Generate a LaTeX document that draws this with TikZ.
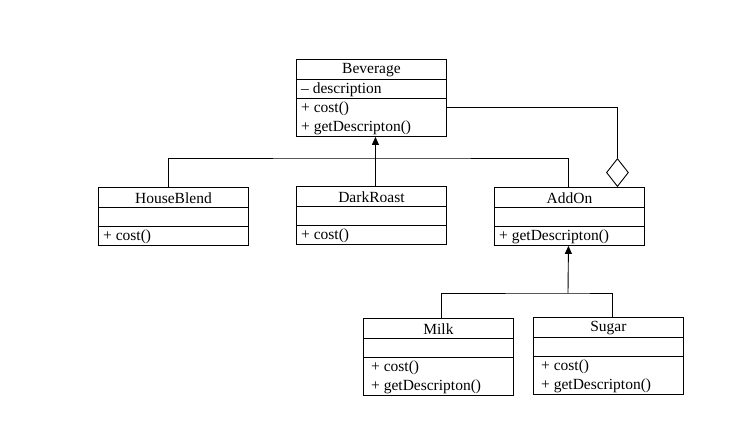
\documentclass[tikz,border=0pt]{standalone}
\usepackage{fontspec}
\setmainfont{Liberation Serif}
\usetikzlibrary{arrows.meta,shapes.geometric}
\begin{document}
\begin{tikzpicture}[x=1pt,y=-1pt,
  box/.style={draw, line width=0.9pt, minimum width=150pt, inner sep=0pt, anchor=north west},
  ttl/.style={inner sep=0pt, font=\fontsize{15.5}{16}\selectfont},
  txt/.style={inner sep=0pt, anchor=west, font=\fontsize{15.5}{16}\selectfont},
  sep/.style={line width=0.9pt},
  con/.style={line width=0.9pt},
  inh/.style={con, -{Triangle[length=8pt,width=7pt]}}]
\path[fill=white, use as bounding box] (0,0) rectangle (756,427);

% Beverage
\node[box, minimum height=77pt] (bev) at (296,59) {};
\draw[sep] ([yshift=-20pt]bev.north west) -- ([yshift=-20pt]bev.north east);
\draw[sep] ([yshift=-39pt]bev.north west) -- ([yshift=-39pt]bev.north east);
\node[ttl] (bevt) at ([yshift=-11.5pt]bev.north) {Beverage};
\node[txt] (beva) at ([xshift=5pt,yshift=-31pt]bev.north west) {\textendash\ description};
\node[txt] (bevm1) at ([xshift=5pt,yshift=-50pt]bev.north west) {+ cost()};
\node[txt] (bevm2) at ([xshift=5pt,yshift=-69pt]bev.north west) {+ getDescripton()};

% HouseBlend
\node[box, minimum height=58pt] (hb) at (98,187) {};
\draw[sep] ([yshift=-20pt]hb.north west) -- ([yshift=-20pt]hb.north east);
\draw[sep] ([yshift=-39pt]hb.north west) -- ([yshift=-39pt]hb.north east);
\node[ttl] (hbt) at ([yshift=-11.5pt]hb.north) {HouseBlend};
\node[txt] (hbm) at ([xshift=5pt,yshift=-50pt]hb.north west) {+ cost()};

% DarkRoast
\node[box, minimum height=58pt] (dr) at (296,186) {};
\draw[sep] ([yshift=-20pt]dr.north west) -- ([yshift=-20pt]dr.north east);
\draw[sep] ([yshift=-39pt]dr.north west) -- ([yshift=-39pt]dr.north east);
\node[ttl] (drt) at ([yshift=-11.5pt]dr.north) {DarkRoast};
\node[txt] (drm) at ([xshift=5pt,yshift=-50pt]dr.north west) {+ cost()};

% AddOn
\node[box, minimum height=58pt] (ao) at (494,187) {};
\draw[sep] ([yshift=-20pt]ao.north west) -- ([yshift=-20pt]ao.north east);
\draw[sep] ([yshift=-39pt]ao.north west) -- ([yshift=-39pt]ao.north east);
\node[ttl] (aot) at ([yshift=-11.5pt]ao.north) {AddOn};
\node[txt] (aom) at ([xshift=5pt,yshift=-50pt]ao.north west) {+ getDescripton()};

% Milk
\node[box, minimum height=77pt] (mk) at (363,318) {};
\draw[sep] ([yshift=-20pt]mk.north west) -- ([yshift=-20pt]mk.north east);
\draw[sep] ([yshift=-39pt]mk.north west) -- ([yshift=-39pt]mk.north east);
\node[ttl] (mkt) at ([yshift=-11.5pt]mk.north) {Milk};
\node[txt] (mkm1) at ([xshift=8pt,yshift=-50pt]mk.north west) {+ cost()};
\node[txt] (mkm2) at ([xshift=8pt,yshift=-69pt]mk.north west) {+ getDescripton()};

% Sugar
\node[box, minimum height=77pt] (sg) at (533,317) {};
\draw[sep] ([yshift=-20pt]sg.north west) -- ([yshift=-20pt]sg.north east);
\draw[sep] ([yshift=-39pt]sg.north west) -- ([yshift=-39pt]sg.north east);
\node[ttl] (sgt) at ([yshift=-11.5pt]sg.north) {Sugar};
\node[txt] (sgm1) at ([xshift=8pt,yshift=-50pt]sg.north west) {+ cost()};
\node[txt] (sgm2) at ([xshift=8pt,yshift=-69pt]sg.north west) {+ getDescripton()};

% inheritance from Beverage
\coordinate (bar) at (375,158);
\draw[con] ([xshift=-5pt]hb.north) |- (bar) -| ([xshift=-1pt]ao.north);
\draw[inh] ([xshift=4pt]dr.north) -- ([xshift=4pt]bev.south);

% aggregation
\node[draw, diamond, line width=0.9pt, fill=white, minimum width=22pt, minimum height=28pt, inner sep=0pt, anchor=south] (dia) at ([xshift=48pt]ao.north) {};
\draw[con] ([yshift=-48pt]bev.north east) -| (dia.north);

% inheritance from AddOn
\coordinate (bar2) at (568,293);
\draw[con] ([xshift=3pt]mk.north) |- (bar2) -| ([xshift=4pt]sg.north);
\draw[inh] (bar2) -- ([xshift=-1pt]ao.south);
\end{tikzpicture}
\end{document}
